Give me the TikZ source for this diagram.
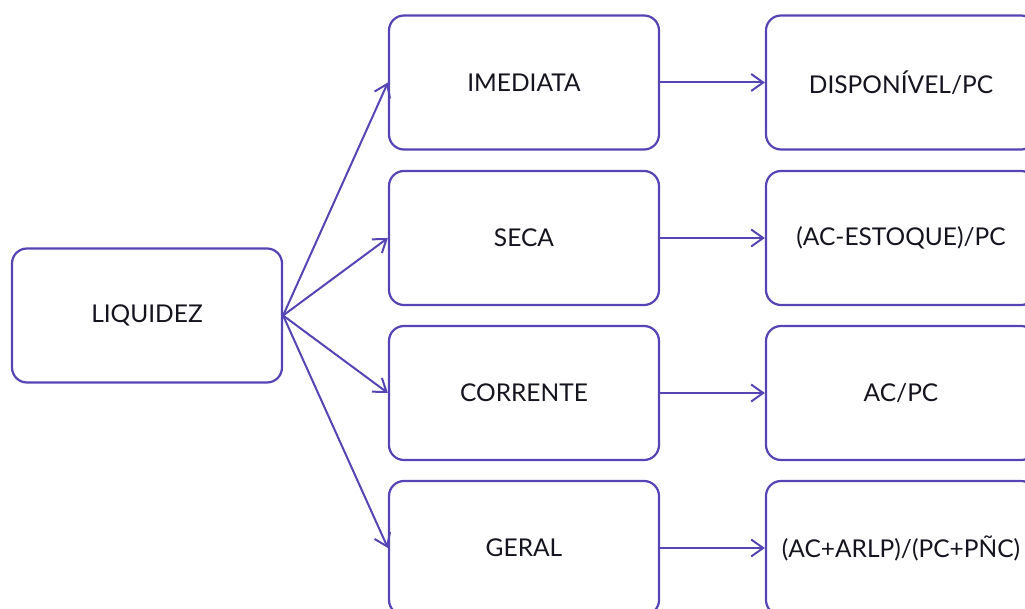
\documentclass[tikz,border=0pt]{standalone}
\usepackage{fontspec}
\setmainfont{Lato}
\usetikzlibrary{arrows.meta}
\definecolor{edge}{RGB}{84,68,180}
\definecolor{ink}{RGB}{20,20,30}
\tikzset{
  box/.style={draw=edge, line width=2.2pt, rounded corners=15pt,
    minimum width=270pt, minimum height=134pt, inner sep=0pt,
    text=ink, font=\fontsize{24.5}{28}\selectfont},
  link/.style={draw=edge, line width=2pt,
    -{Straight Barb[length=12pt,width=17pt,line width=2pt]}}
}
\begin{document}
\begin{tikzpicture}[x=1pt,y=-1pt]
  \useasboundingbox (0,0) rectangle (1025,609);
  \clip (0,0) rectangle (1025,609);
  % source
  \node[box] (liq) at (147,315.5) {LIQUIDEZ};
  % kinds of ratio
  \node[box] (ime) at (524,82.5) {IMEDIATA};
  \node[box] (sec) at (524,238) {SECA};
  \node[box] (cor) at (524,393) {CORRENTE};
  \node[box] (ger) at (524,548) {GERAL};
  % formulas
  \node[box] (f1) at (901,82.5) {DISPONÍVEL/PC};
  \node[box] (f2) at (901,238) {(AC-ESTOQUE)/PC};
  \node[box] (f3) at (901,393) {AC/PC};
  \node[box] (f4) at (901,548) {(AC+ARLP)/(PC+PÑC)};
  % fan-out
  \foreach \t in {ime,sec,cor,ger}
    \draw[link] (liq.east) -- (\t.west);
  % formula arrows
  \draw[link] (ime.east) -- (f1.west);
  \draw[link] (sec.east) -- (f2.west);
  \draw[link] (cor.east) -- (f3.west);
  \draw[link] (ger.east) -- (f4.west);
\end{tikzpicture}
\end{document}
